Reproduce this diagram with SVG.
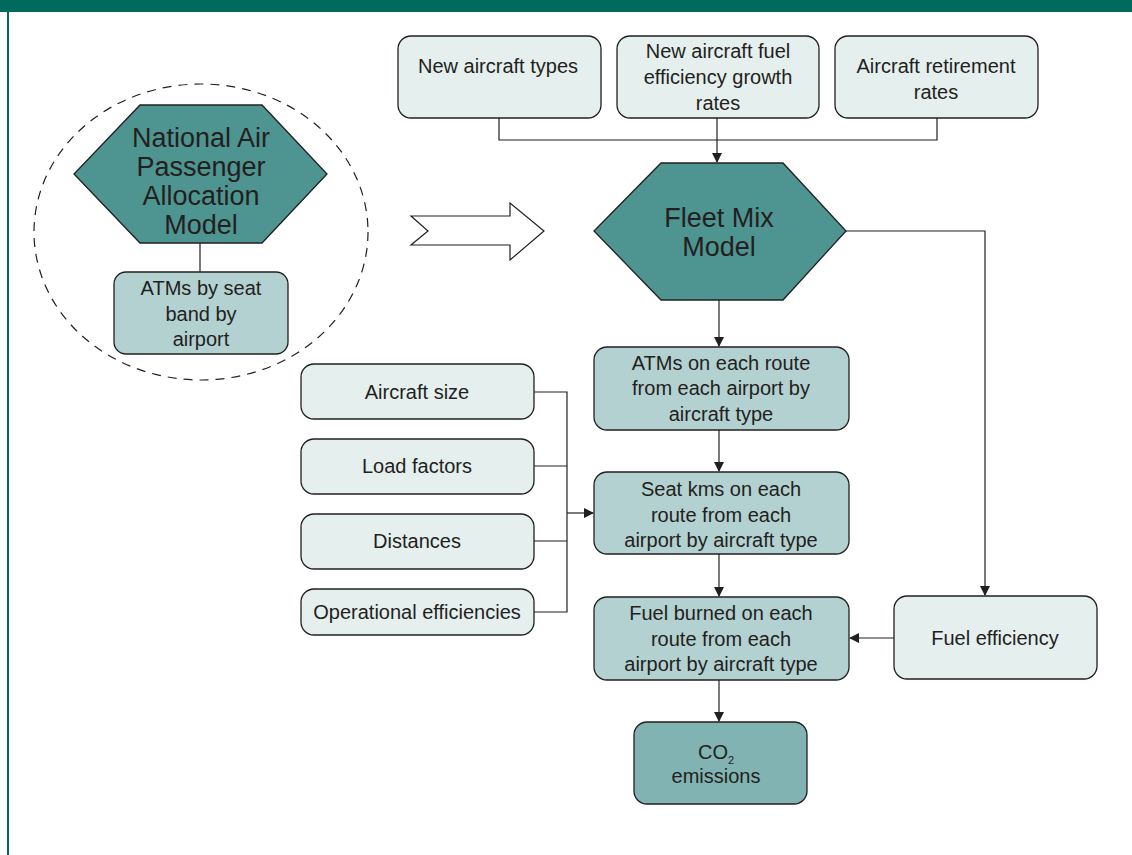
<svg xmlns="http://www.w3.org/2000/svg" width="1132" height="855" viewBox="0 0 1132 855">
<style>
text{font-family:"Liberation Sans",Arial,sans-serif;fill:#231f20;text-anchor:middle;font-size:20px}
.big{font-size:27px}
.box{stroke:#231f20;stroke-width:1.3}
.light{fill:#e5efee}
.mid{fill:#b3d1d0}
.dark{fill:#80b3b1}
.hex{fill:#4e9490;stroke:#231f20;stroke-width:1.3}
.conn{fill:none;stroke:#231f20;stroke-width:1.2}
</style>
<defs>
<marker id="ah" markerWidth="10" markerHeight="10" refX="9" refY="5" orient="auto" markerUnits="userSpaceOnUse">
<path d="M0,0 L10,5 L0,10 Z" fill="#231f20"/>
</marker>
</defs>
<rect x="0" y="0" width="1132" height="855" fill="#ffffff"/>
<rect x="0" y="0" width="1132" height="12" fill="#006b5c"/>
<line x1="8" y1="12" x2="8" y2="855" stroke="#006b5c" stroke-width="2"/>

<g id="scope">
<ellipse cx="201" cy="232" rx="167" ry="148" fill="none" stroke="#231f20" stroke-width="1.2" stroke-dasharray="9,7"/>
</g>

<g id="connectors">
<line class="conn" x1="200" y1="243" x2="200" y2="272" stroke-width="2"/>
<polyline class="conn" points="499,118 499,140 937,140 937,118"/>
<line class="conn" x1="717" y1="118" x2="717" y2="162" marker-end="url(#ah)"/>
<line class="conn" x1="719" y1="300" x2="719" y2="346" marker-end="url(#ah)"/>
<polyline class="conn" points="846,231 985,231 985,595" marker-end="url(#ah)"/>
<line class="conn" x1="719" y1="430" x2="719" y2="471" marker-end="url(#ah)"/>
<line class="conn" x1="719" y1="554" x2="719" y2="596" marker-end="url(#ah)"/>
<line class="conn" x1="719" y1="680" x2="719" y2="721" marker-end="url(#ah)"/>
<line class="conn" x1="894" y1="638" x2="850" y2="638" marker-end="url(#ah)"/>
<polyline class="conn" points="534,392 567,392 567,612 534,612"/>
<line class="conn" x1="534" y1="466" x2="567" y2="466"/>
<line class="conn" x1="534" y1="541" x2="567" y2="541"/>
<line class="conn" x1="567" y1="513" x2="593" y2="513" marker-end="url(#ah)"/>
<polygon points="411,216 510,216 510,203 544,231 510,260 510,245 411,245 428,231" fill="#ffffff" stroke="#231f20" stroke-width="1.2"/>
</g>

<g id="napam">
<polygon class="hex" points="140,105 262,105 327,174 262,243 140,243 74,174"/>
<text class="big" x="201" y="147">National Air</text>
<text class="big" x="201" y="176">Passenger</text>
<text class="big" x="201" y="205">Allocation</text>
<text class="big" x="201" y="234">Model</text>
</g>

<g id="atms-seat-band">
<rect class="box mid" x="114" y="272" width="174" height="82" rx="12"/>
<text x="201" y="295">ATMs by seat</text>
<text x="201" y="321">band by</text>
<text x="201" y="346">airport</text>
</g>

<g id="new-aircraft-types">
<rect class="box light" x="398" y="36" width="203" height="82" rx="13"/>
<text x="498" y="73">New aircraft types</text>
</g>

<g id="fuel-eff-growth">
<rect class="box light" x="617" y="36" width="202" height="82" rx="13"/>
<text x="718" y="58">New aircraft fuel</text>
<text x="718" y="84">efficiency growth</text>
<text x="718" y="110">rates</text>
</g>

<g id="retirement-rates">
<rect class="box light" x="835" y="36" width="203" height="82" rx="13"/>
<text x="936" y="73">Aircraft retirement</text>
<text x="936" y="99">rates</text>
</g>

<g id="fleet-mix">
<polygon class="hex" points="661,163 783,163 846,231 783,300 661,300 594,231"/>
<text class="big" x="719" y="227">Fleet Mix</text>
<text class="big" x="719" y="256">Model</text>
</g>

<g id="atms-route">
<rect class="box mid" x="594" y="347" width="255" height="83" rx="13"/>
<text x="721" y="370">ATMs on each route</text>
<text x="721" y="395">from each airport by</text>
<text x="721" y="421">aircraft type</text>
</g>

<g id="seat-kms">
<rect class="box mid" x="594" y="472" width="255" height="82" rx="13"/>
<text x="721" y="496">Seat kms on each</text>
<text x="721" y="522">route from each</text>
<text x="721" y="547">airport by aircraft type</text>
</g>

<g id="fuel-burned">
<rect class="box mid" x="594" y="597" width="255" height="83" rx="13"/>
<text x="721" y="620">Fuel burned on each</text>
<text x="721" y="646">route from each</text>
<text x="721" y="671">airport by aircraft type</text>
</g>

<g id="co2">
<rect class="box dark" x="634" y="722" width="173" height="82" rx="13"/>
<text x="716" y="759">CO<tspan font-size="11" dy="5">2</tspan></text>
<text x="716" y="783">emissions</text>
</g>

<g id="fuel-efficiency">
<rect class="box light" x="894" y="596" width="203" height="83" rx="13"/>
<text x="995" y="645">Fuel efficiency</text>
</g>

<g id="aircraft-size">
<rect class="box light" x="301" y="364" width="233" height="55" rx="13"/>
<text x="417" y="399">Aircraft size</text>
</g>

<g id="load-factors">
<rect class="box light" x="301" y="439" width="233" height="55" rx="13"/>
<text x="417" y="473">Load factors</text>
</g>

<g id="distances">
<rect class="box light" x="301" y="514" width="233" height="55" rx="13"/>
<text x="417" y="548">Distances</text>
</g>

<g id="operational-efficiencies">
<rect class="box light" x="301" y="589" width="233" height="46" rx="13"/>
<text x="417" y="619">Operational efficiencies</text>
</g>
</svg>
